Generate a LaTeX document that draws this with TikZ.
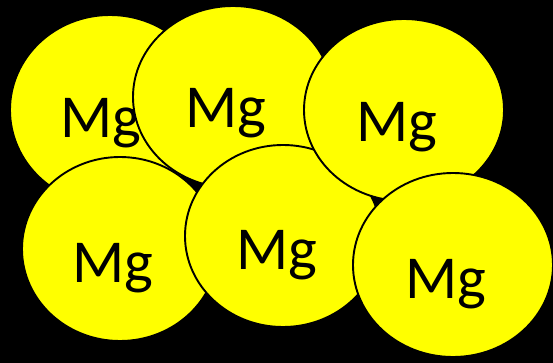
\documentclass[tikz,border=0pt]{standalone}
\usepackage{fontspec}
\setmainfont{Carlito}
\usetikzlibrary{shapes.geometric}
\definecolor{mgyellow}{HTML}{FFFF00}
\tikzset{
  atom/.style={ellipse, draw=black, line width=1.9pt, fill=mgyellow, inner sep=0pt},
  lbl/.style={anchor=base, inner sep=0pt, font=\fontsize{61}{70}\selectfont, text=black}
}
\begin{document}
\begin{tikzpicture}[x=1pt,y=-1pt]
\fill[black] (0,0) rectangle (553,363);
\useasboundingbox (0,0) rectangle (553,363);
\node[atom, minimum width=200pt, minimum height=190pt] (e1) at (110,110) {};
\node[lbl] (t1) at (101,138) {Mg};
\node[atom, minimum width=200pt, minimum height=182pt] (e2) at (233,97) {};
\node[lbl] (t2) at (226,128) {Mg};
\node[atom, minimum width=196pt, minimum height=184pt] (e4) at (120,249) {};
\node[lbl] (t4) at (113,282) {Mg};
\node[atom, minimum width=196pt, minimum height=182pt] (e5) at (283,236) {};
\node[lbl] (t5) at (277,269) {Mg};
\node[atom, minimum width=200pt, minimum height=182pt] (e3) at (404,110) {};
\node[lbl] (t3) at (397,142) {Mg};
\node[atom, minimum width=200pt, minimum height=184pt] (e6) at (453,265) {};
\node[lbl] (t6) at (446,298) {Mg};
\end{tikzpicture}
\end{document}
